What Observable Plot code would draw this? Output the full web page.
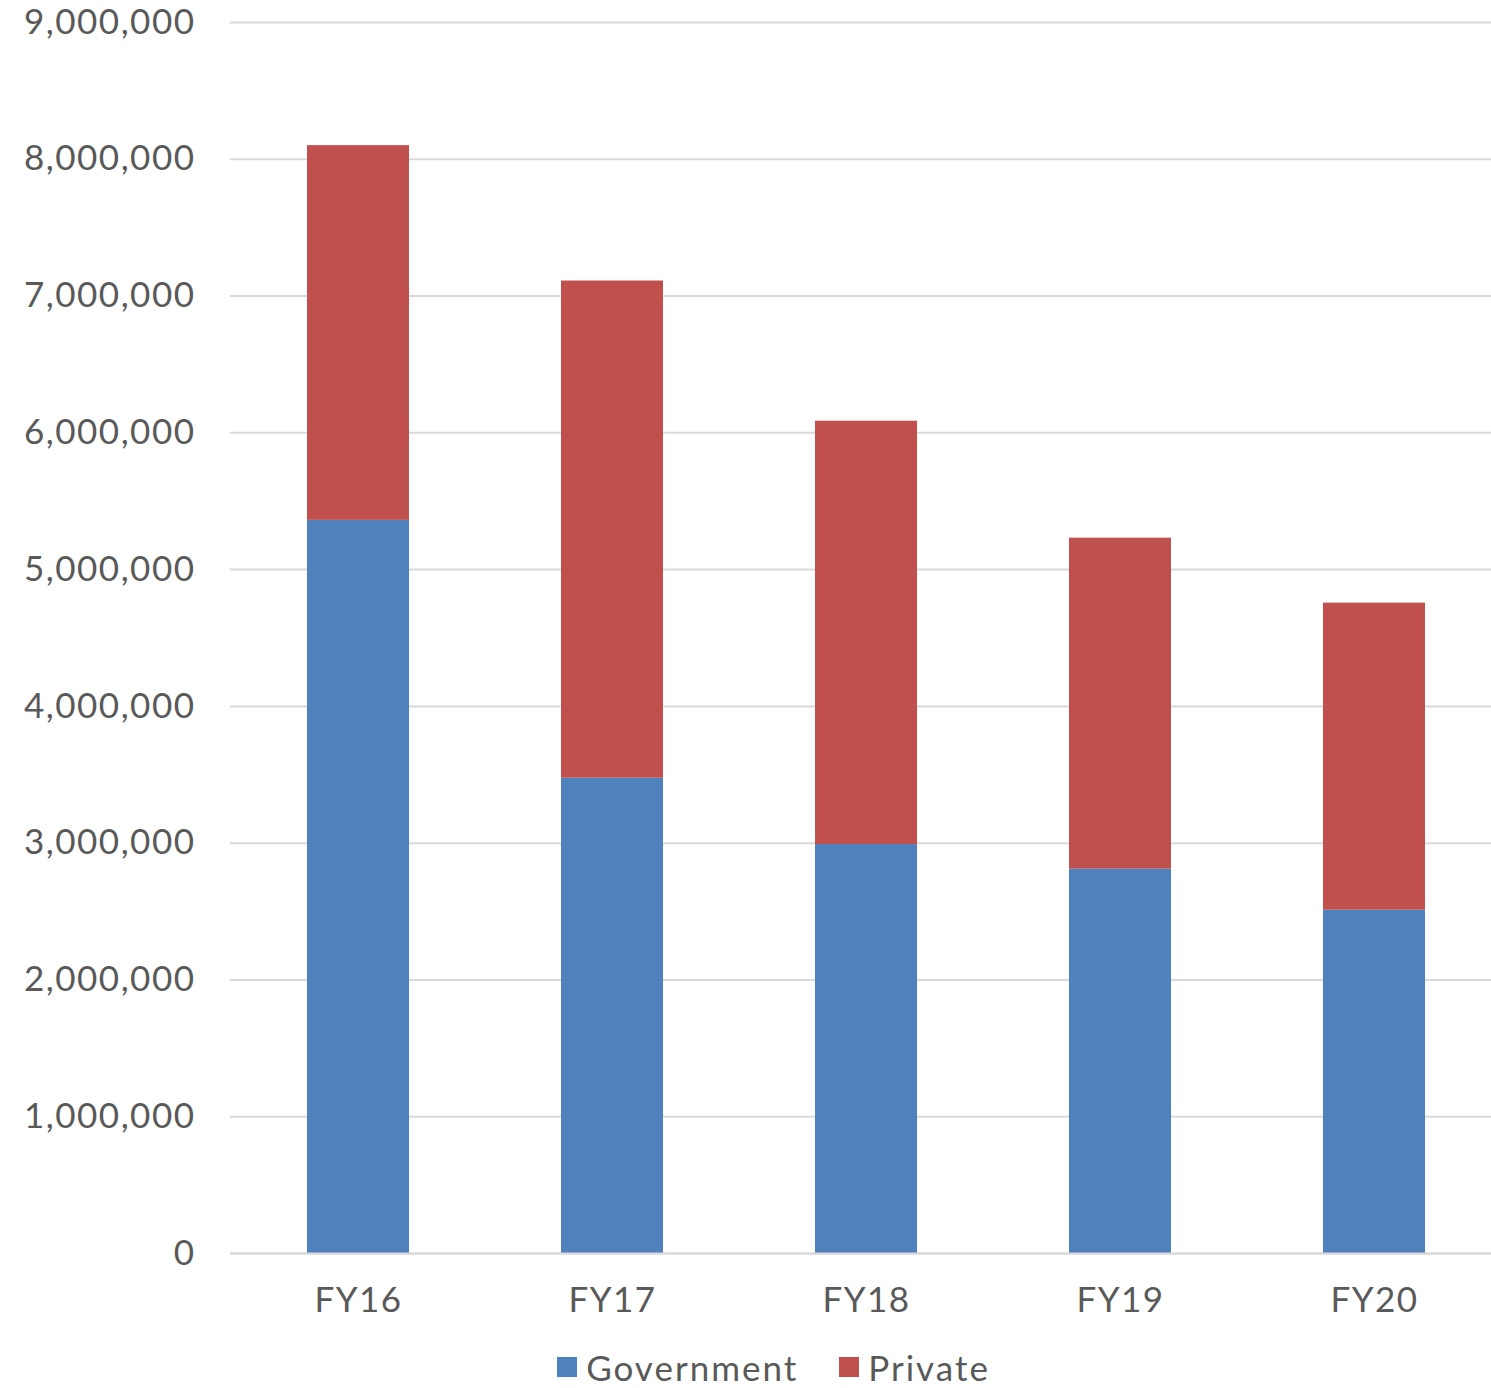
<!DOCTYPE html>
<html>
<head>
<meta charset="utf-8">
<script src="https://cdn.jsdelivr.net/npm/d3@7"></script>
<script src="https://cdn.jsdelivr.net/npm/@observablehq/plot@0.6"></script>
<style>
  body { margin: 0; background: #fff; font-family: Lato, "Open Sans", sans-serif; }
  #chart svg { display: block; }
  .legend { display: flex; justify-content: center; gap: 41px; padding-left: 56px; font-size: 35px; letter-spacing: 2px; color: #595959; line-height: 40px; margin-top: 17px; }
  .legend span.item { display: inline-flex; align-items: center; }
  .legend .sw { width: 20px; height: 20px; display: inline-block; margin-right: 9px; }
</style>
</head>
<body>
<div id="chart"></div>
<div class="legend" id="legend"></div>
<script>
const years = ["FY16", "FY17", "FY18", "FY19", "FY20"];
const government = [5360000, 3475000, 2990000, 2810000, 2510000];
const priv = [2740000, 3635000, 3095000, 2420000, 2245000];
const seriesNames = ["Government", "Private"];
const seriesColors = ["#4F81BD", "#C0504D"];
const yTicks = [0, 1000000, 2000000, 3000000, 4000000, 5000000, 6000000, 7000000, 8000000, 9000000];

const data = [];
years.forEach((y, i) => {
  data.push({year: y, series: seriesNames[0], value: government[i]});
  data.push({year: y, series: seriesNames[1], value: priv[i]});
});

const chart = Plot.plot({
  width: 1491,
  height: 1330,
  marginLeft: 230,
  marginRight: 0,
  marginTop: 22,
  marginBottom: 77,
  style: {fontFamily: "Lato, 'Open Sans', sans-serif", fontSize: "35px", letterSpacing: "1.5px", color: "#595959", background: "#fff"},
  x: {domain: years, range: [230, 1501], paddingInner: 0.6, paddingOuter: 0.3, label: null, tickSize: 0, tickPadding: 34},
  y: {domain: [0, 9000000], ticks: yTicks, tickFormat: d3.format(","), label: null, tickSize: 0, tickPadding: 35},
  color: {domain: seriesNames, range: seriesColors},
  marks: [
    Plot.gridY(yTicks, {stroke: "#d9d9d9", strokeOpacity: 1, strokeWidth: 2}),
    Plot.barY(data, {x: "year", y: "value", fill: "series", order: seriesNames}),
    Plot.ruleY([0], {stroke: "#d9d9d9", strokeWidth: 2})
  ]
});
document.getElementById("chart").appendChild(chart);

const leg = document.getElementById("legend");
seriesNames.forEach((n, i) => {
  const it = document.createElement("span");
  it.className = "item";
  it.innerHTML = `<span class="sw" style="background:${seriesColors[i]}"></span>${n}`;
  leg.appendChild(it);
});
</script>
</body>
</html>
